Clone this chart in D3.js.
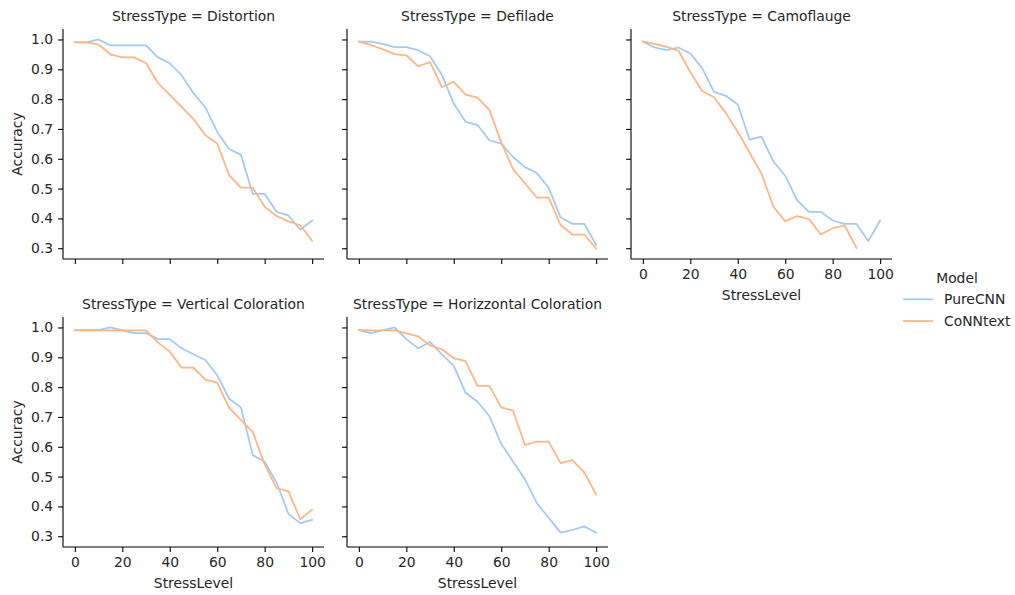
<!DOCTYPE html>
<html><head><meta charset="utf-8">
<script src="https://cdn.jsdelivr.net/npm/d3@7"></script>
<style>
body{margin:0;background:#fff;}
svg text{font-family:"DejaVu Sans",sans-serif;fill:#262626;}
</style></head>
<body><svg id="chart" width="1015" height="595"></svg>
<script>
const stressLevels = [0,5,10,15,20,25,30,35,40,45,50,55,60,65,70,75,80,85,90,95,100];
const stressTypes = ["Distortion","Defilade","Camoflauge","Vertical Coloration","Horizzontal Coloration"];
const models = ["PureCNN","CoNNtext"];
const modelColors = ["#a1c9f4","#ffb482"];
const yTicks = [0.3,0.4,0.5,0.6,0.7,0.8,0.9,1.0];
const xTicks = [0,20,40,60,80,100];

const pureDistortion = [0.99,0.99,1.0,0.98,0.98,0.98,0.98,0.94,0.92,0.88,0.82,0.772,0.69,0.633,0.613,0.482,0.482,0.422,0.41,0.362,0.393];
const connDistortion = [0.99,0.99,0.983,0.95,0.94,0.94,0.92,0.854,0.814,0.774,0.733,0.679,0.651,0.545,0.503,0.503,0.439,0.408,0.39,0.377,0.325];
const pureDefilade = [0.993,0.993,0.985,0.974,0.974,0.964,0.944,0.881,0.785,0.724,0.713,0.662,0.651,0.606,0.572,0.552,0.503,0.403,0.382,0.382,0.311];
const connDefilade = [0.993,0.982,0.967,0.951,0.947,0.91,0.924,0.84,0.858,0.815,0.805,0.764,0.655,0.565,0.518,0.47,0.47,0.378,0.346,0.346,0.299];
const pureCamo = [0.993,0.973,0.964,0.973,0.953,0.904,0.824,0.811,0.782,0.664,0.674,0.591,0.543,0.461,0.422,0.422,0.393,0.382,0.382,0.324,0.393];
const connCamo = [0.993,0.985,0.975,0.962,0.89,0.827,0.806,0.753,0.69,0.62,0.55,0.44,0.39,0.408,0.398,0.346,0.367,0.377,0.301];
const pureVertical = [0.991,0.991,0.991,1.0,0.99,0.981,0.981,0.961,0.961,0.93,0.91,0.891,0.84,0.761,0.732,0.572,0.55,0.48,0.375,0.344,0.355];
const connVertical = [0.99,0.99,0.99,0.99,0.99,0.99,0.99,0.95,0.919,0.865,0.865,0.825,0.815,0.73,0.69,0.649,0.541,0.461,0.451,0.357,0.389];
const pureHorizontal = [0.991,0.981,0.99,1.0,0.961,0.93,0.951,0.91,0.871,0.781,0.751,0.703,0.61,0.55,0.491,0.411,0.362,0.312,0.321,0.333,0.312];
const connHorizontal = [0.991,0.99,0.99,0.99,0.98,0.97,0.94,0.927,0.897,0.887,0.804,0.804,0.732,0.721,0.606,0.617,0.617,0.545,0.555,0.514,0.44];

const panelSeries = [
  [pureDistortion, connDistortion],
  [pureDefilade, connDefilade],
  [pureCamo, connCamo],
  [pureVertical, connVertical],
  [pureHorizontal, connHorizontal]
];

const FS = 13.9;
const svg = d3.select("#chart");
const axW = 261, axH = 230;
const lefts = [63, 347, 631];
const tops = [29, 317];

const allVals = panelSeries.flat(2);
const yMin = d3.min(allVals), yMax = d3.max(allVals);
const yPad = (yMax - yMin) * 0.05;
const x = d3.scaleLinear().domain([-5,105]).range([0, axW]);
const y = d3.scaleLinear().domain([yMin - yPad, yMax + yPad]).range([axH, 0]);

const line = d3.line().x((d,i)=>x(stressLevels[i])).y(d=>y(d));

stressTypes.forEach((st, p) => {
  const row = Math.floor(p/3), col = p%3;
  const g = svg.append("g").attr("transform", `translate(${lefts[col]},${tops[row]})`);
  const showXLabels = (row === 1) || (col === 2);
  const showYLabels = (col === 0);

  panelSeries[p].forEach((vals, m) => {
    g.append("path").datum(vals).attr("d", line)
      .attr("fill","none").attr("stroke", modelColors[m]).attr("stroke-width",1.75)
      .attr("stroke-linejoin","round").attr("stroke-linecap","square");
  });

  const xa = g.append("g").attr("transform", `translate(0,${axH})`)
    .call(d3.axisBottom(x).tickValues(xTicks).tickSizeOuter(0).tickSize(4.9).tickPadding(4.9)
      .tickFormat(showXLabels ? d3.format("d") : ""));
  const ya = g.append("g")
    .call(d3.axisLeft(y).tickValues(yTicks).tickSizeOuter(0).tickSize(4.9).tickPadding(4.9)
      .tickFormat(showYLabels ? d3.format(".1f") : ""));
  [xa, ya].forEach(a => {
    a.select(".domain").attr("stroke","#000").attr("stroke-width",1.1);
    a.selectAll(".tick line").attr("stroke","#000").attr("stroke-width",1.1);
    a.selectAll(".tick text").attr("font-size", FS).attr("font-family","DejaVu Sans").attr("fill","#262626");
  });
  ya.select(".domain").attr("d", `M0,0V${axH}`);
  xa.select(".domain").attr("d", `M0,0H${axW}`);

  g.append("text").attr("x", axW/2).attr("y", -8).attr("text-anchor","middle")
    .attr("font-size", FS).text(`StressType = ${st}`);

  if (showXLabels) {
    g.append("text").attr("x", axW/2).attr("y", axH + 41).attr("text-anchor","middle")
      .attr("font-size", FS).text("StressLevel");
  }
  if (showYLabels) {
    g.append("text").attr("transform", `translate(-41,${axH/2}) rotate(-90)`)
      .attr("text-anchor","middle").attr("font-size", FS).text("Accuracy");
  }
});

// legend
const lg = svg.append("g").attr("transform","translate(903,0)");
lg.append("text").attr("x", 54).attr("y", 283).attr("text-anchor","middle").attr("font-size", FS).text("Model");
models.forEach((m,i) => {
  const yy = 299.3 + i*21.7;
  lg.append("line").attr("x1",0).attr("x2",30).attr("y1",yy).attr("y2",yy)
    .attr("stroke", modelColors[i]).attr("stroke-width",1.75);
  lg.append("text").attr("x",41).attr("y",yy+5).attr("font-size",FS).text(m);
});
</script></body></html>
